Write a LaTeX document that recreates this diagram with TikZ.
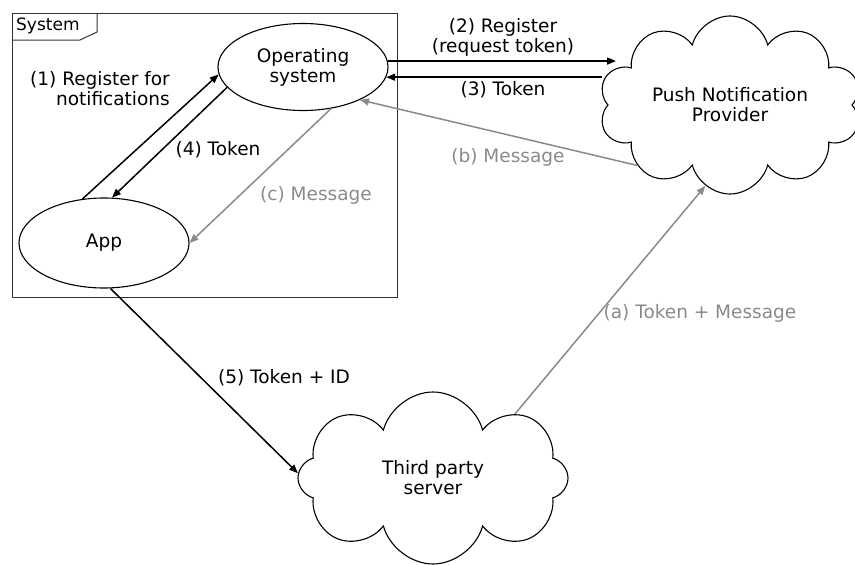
\documentclass[tikz,border=0pt]{standalone}
\usepackage{fontspec}
\setmainfont{DejaVu Sans}
\usetikzlibrary{shapes.geometric,shapes.symbols,arrows.meta}
\definecolor{lgray}{HTML}{8A8A8A}
\begin{document}
\begin{tikzpicture}[x=1pt,y=-1pt,
  every node/.style={font=\fontsize{18.5}{20}\selectfont},
  ell/.style={draw, ellipse, line width=1.1pt, inner sep=0pt, align=center},
  cld/.style={draw, cloud, cloud ignores aspect, line width=1.1pt, inner sep=0pt, align=center},
  blk/.style={line width=1.5pt, -{Triangle[length=9pt,width=7pt]}},
  gry/.style={blk, draw=lgray},
  lbl/.style={align=center, inner sep=0pt},
  glbl/.style={lbl, text=lgray}]
\useasboundingbox (0,0) rectangle (855,565);
% system frame
\draw[line width=1pt, draw=black!80] (12,13) rectangle (397,297);
\draw[line width=1pt, draw=black!80] (12,40) -- (80,40) -- (97,32) -- (97,13);
\node[lbl, anchor=west, font=\fontsize{17}{19}\selectfont] (systag) at (16,26) {System};
% nodes
\node[ell, minimum width=170pt, minimum height=87pt] (os) at (303,67) {Operating\\system};
\node[ell, minimum width=170pt, minimum height=90pt] (app) at (104,243) {App};
\node[cld, cloud puffs=10, minimum width=262pt, minimum height=178pt] (push) at (730,105) {Push Notification\\Provider};
\node[cld, cloud puffs=8, minimum width=270pt, minimum height=172pt] (third) at (433,478) {Third party\\server};
% connectors
\draw[blk] (app.116) -- (os.185);
\draw[blk] (os.195) -- (app.80);
\draw[gry] (os.304) -- (app.0);
\draw[blk] (os.4) -- (os.4 -| push.162);
\draw[blk] (os.-7 -| push.172) -- (os.-7);
\draw[gry] (push.213) -- (os.330);
\draw[gry] (third.38) -- (push.253);
\draw[blk] (app.278) -- (third.178);
% labels
\node[lbl, align=right, anchor=east] (l1) at (170,89) {(1) Register for\\notifications};
\node[lbl] (l4) at (218,150) {(4) Token};
\node[glbl] (lc) at (316,195) {(c) Message};
\node[lbl] (l2) at (503,37) {(2) Register\\(request token)};
\node[lbl] (l3) at (503,90) {(3) Token};
\node[glbl] (lb) at (508,157) {(b) Message};
\node[glbl] (la) at (700,313) {(a) Token + Message};
\node[lbl] (l5) at (284,378) {(5) Token + ID};
\end{tikzpicture}
\end{document}
